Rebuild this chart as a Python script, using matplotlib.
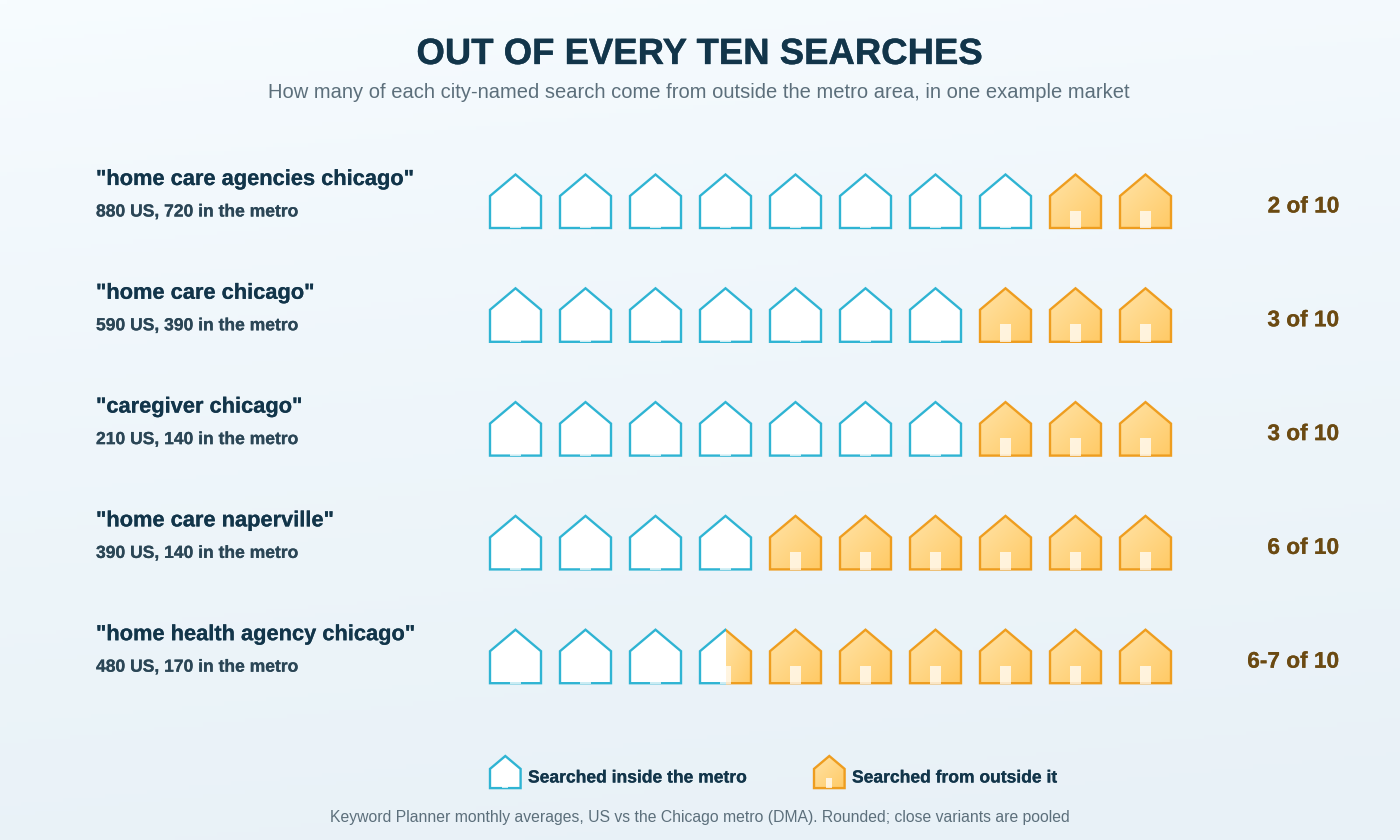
import numpy as np
import matplotlib
matplotlib.use("Agg")
import matplotlib.pyplot as plt
import matplotlib.patheffects as pe
from matplotlib.patches import Polygon, Rectangle
from matplotlib.colors import LinearSegmentedColormap

keywords = ['"home care agencies chicago"', '"home care chicago"', '"caregiver chicago"',
            '"home care naperville"', '"home health agency chicago"']
us_volume = [880, 590, 210, 390, 480]
metro_volume = [720, 390, 140, 140, 170]
outside_tenths = [2, 3, 3, 6, 6.5]
share_labels = ["2 of 10", "3 of 10", "3 of 10", "6 of 10", "6-7 of 10"]

TITLE = "OUT OF EVERY TEN SEARCHES"
SUBTITLE = "How many of each city-named search come from outside the metro area, in one example market"
LEGEND = ["Searched inside the metro", "Searched from outside it"]
FOOTER = "Keyword Planner monthly averages, US vs the Chicago metro (DMA). Rounded; close variants are pooled"

BLUE = "#2fb4d3"
ORANGE = "#ee9d1f"
FONT = "Liberation Sans"

fig = plt.figure(figsize=(14, 8.4), dpi=100)
ax = fig.add_axes([0, 0, 1, 1])
ax.set_xlim(0, 1400)
ax.set_ylim(840, 0)
ax.axis("off")

# page background
yy, xx = np.mgrid[0:1:200j, 0:1:200j]
t = np.clip(0.86 * yy + 0.14 * xx, 0, 1) ** 0.75
bg = LinearSegmentedColormap.from_list("bg", ["#f7fcff", "#e8f1f7"])
ax.imshow(t, cmap=bg, extent=(0, 1400, 840, 0), aspect="auto", zorder=0, vmin=0, vmax=1)

fillmap = LinearSegmentedColormap.from_list("fill", ["#ffe3a6", "#ffca66"])
grad = np.add.outer(np.linspace(0, 1, 60), np.linspace(0, 1, 60)) / 2


def bold_text(x, y, s, size, color, ha="left", extra=0.15):
    return ax.text(x, y, s, ha=ha, va="baseline", fontsize=size, fontweight="bold", color=color, family=FONT,
                   path_effects=[pe.withStroke(linewidth=extra, foreground=color)], zorder=6)


def house_outline(x, y, s):
    return [(x, y + 21.5 * s), (x + 25.5 * s, y), (x + 51 * s, y + 21.5 * s),
            (x + 51 * s, y + 53.5 * s), (x, y + 53.5 * s)]


def draw_house(x, y, s, outside_part):
    """outside_part: 0 inside house, 1 outside house, between: split at the ridge."""
    pts = house_outline(x, y, s)
    right = x + 51 * s
    floor = y + 53.5 * s
    split = x + 51 * s * (1 - outside_part)
    top, bottom = y - 4, floor + 4
    ax.add_patch(Polygon(pts, closed=True, fc="white", ec="none", zorder=2))
    if outside_part > 0:
        im = ax.imshow(grad, cmap=fillmap, extent=(split, right, floor, y),
                       aspect="auto", zorder=3, vmin=0, vmax=1)
        clip = Polygon(pts, closed=True, transform=ax.transData, fc="none", ec="none")
        ax.add_patch(clip)
        im.set_clip_path(clip)
    lw = 1.7
    if outside_part < 1:
        p = Polygon(pts, closed=True, fc="none", ec=BLUE, lw=lw, joinstyle="miter", zorder=4)
        ax.add_patch(p)
        edge = right + 4 if outside_part == 0 else split
        p.set_clip_path(Rectangle((x - 4, top), edge - x + 4, bottom - top, transform=ax.transData))
    if outside_part > 0:
        p = Polygon(pts, closed=True, fc="none", ec=ORANGE, lw=lw, joinstyle="miter", zorder=4)
        ax.add_patch(p)
        edge = x - 4 if outside_part == 1 else split
        p.set_clip_path(Rectangle((edge, top), right + 4 - edge, bottom - top, transform=ax.transData))
    ax.add_patch(Rectangle((x + 20.2 * s, y + 36 * s), 10.3 * s, 17.9 * s, fc="white", ec="none",
                           alpha=0.75, zorder=5))


bold_text(699.5, 64, TITLE, 26.3, "#12354a", ha="center", extra=0.25)
ax.text(699, 97.5, SUBTITLE, ha="center", va="baseline", fontsize=14.47, color="#5c6f7b", family=FONT)

for r, kw in enumerate(keywords):
    ytop = 174.5 + 113.8 * r
    bold_text(96, ytop + 10.5, kw, 15.72, "#12354a")
    bold_text(96, ytop + 42, f"{us_volume[r]} US, {metro_volume[r]} in the metro", 12.6, "#2b4656")
    inside = 10 - outside_tenths[r]
    for i in range(10):
        part = float(np.clip(i + 1 - inside, 0, 1))
        draw_house(490 + 70 * i, ytop, 1, part)
    bold_text(1339, ytop + 38, share_labels[r], 16.3, "#6b4a12", ha="right")

draw_house(490, 756, 0.6, 0)
bold_text(528, 782.5, LEGEND[0], 12.6, "#12354a")
draw_house(814, 756, 0.6, 1)
bold_text(852, 782.5, LEGEND[1], 12.6, "#12354a")
ax.text(700, 822, FOOTER, ha="center", va="baseline", fontsize=11.37, color="#5c6f7b", family=FONT)

ax.set_xlim(0, 1400)
ax.set_ylim(840, 0)
fig.savefig("out.png", dpi=100)
